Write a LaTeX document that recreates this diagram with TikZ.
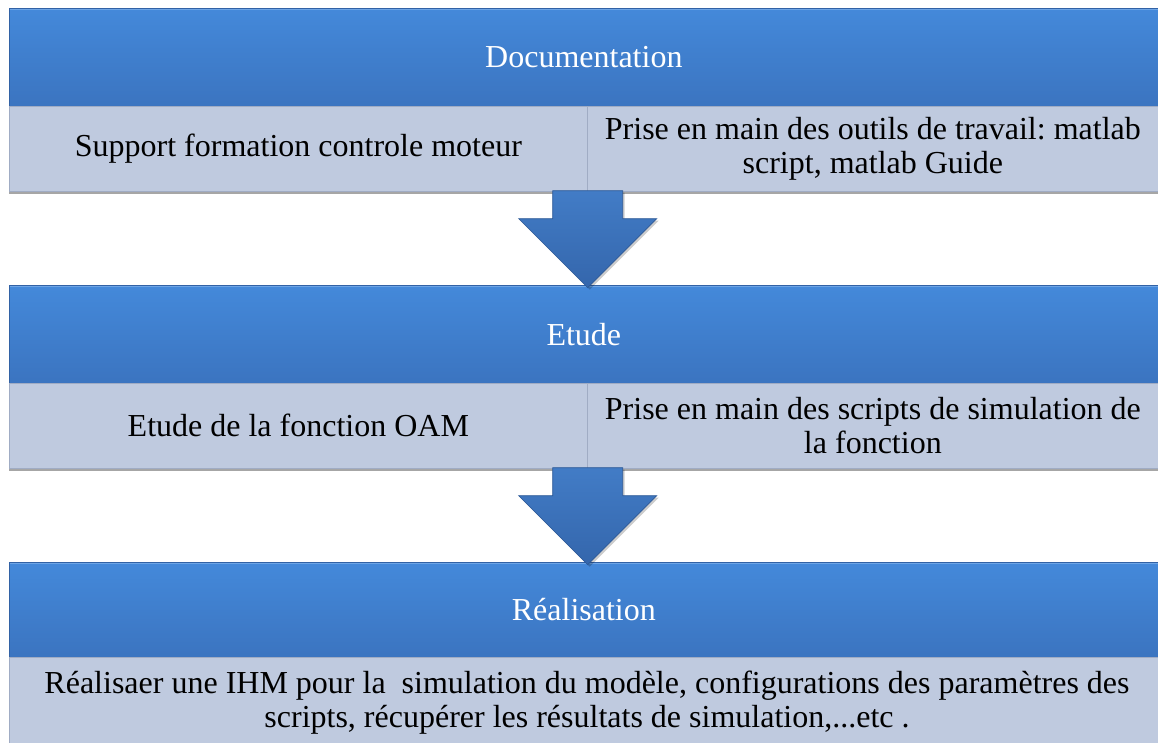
\documentclass[tikz,border=0pt]{standalone}
\usepackage{fontspec}
\setmainfont{Liberation Serif}
\usetikzlibrary{shadows,calc}
\frenchspacing
\definecolor{hdtop}{RGB}{68,137,218}
\definecolor{hdbot}{RGB}{59,116,192}
\definecolor{hdline}{RGB}{50,98,165}
\definecolor{hdlight}{RGB}{110,165,230}
\definecolor{cellfill}{RGB}{191,202,223}
\definecolor{cellline}{RGB}{160,172,196}
\definecolor{arrtop}{RGB}{66,124,198}
\definecolor{arrbot}{RGB}{52,102,172}
\definecolor{arrline}{RGB}{44,88,150}
\tikzset{
  txt/.style={font=\fontsize{32}{34}\selectfont},
  header/.style={txt, anchor=north west, inner sep=0pt, minimum width=1149pt,
    minimum height=#1, top color=hdtop, bottom color=hdbot, draw=hdline,
    line width=0.7pt, text=white},
  cell/.style={txt, anchor=north west, inner sep=0pt, fill=cellfill, draw=cellline,
    line width=0.7pt, align=center, text=black,
    drop shadow={shadow xshift=0pt, shadow yshift=-3pt, fill=black, opacity=0.35}},
  flow/.style={top color=arrtop, bottom color=arrbot, draw=arrline, line width=0.7pt,
    line join=miter,
    drop shadow={shadow xshift=2pt, shadow yshift=-2pt, fill=black, opacity=0.2}},
  bevel/.style={draw=hdlight, line width=1.2pt},
}
\begin{document}
\begin{tikzpicture}[x=1pt, y=-1pt]
\clip (0,0) rectangle (1158,742);
\fill[white] (0,0) rectangle (1158,742);

% stage 1
\node[header=98pt] (h1) at (9,8) {Documentation};
\node[cell, minimum width=578pt, minimum height=85pt] (c1l) at (9,106)
  {Support formation controle moteur};
\node[cell, minimum width=571pt, minimum height=85pt] (c1r) at (587,106)
  {Prise en main des outils de travail: matlab\\script, matlab Guide};

% stage 2
\node[header=98pt] (h2) at (9,285) {Etude};
\node[cell, minimum width=578pt, minimum height=85pt] (c2l) at (9,383)
  {Etude de la fonction OAM};
\node[cell, minimum width=571pt, minimum height=85pt] (c2r) at (587,383)
  {Prise en main des scripts de simulation de\\la fonction};

% stage 3
\node[header=95pt] (h3) at (9,562) {R\'ealisation};
\node[cell, minimum width=1149pt, minimum height=92pt] (c3) at (9,657) {};
\node[txt, align=center, anchor=center] (t3) at (587,703)
  {R\'ealisaer une IHM pour la\ \ simulation du mod\`ele, configurations des param\`etres des\\
   scripts, r\'ecup\'erer les r\'esultats de simulation,...etc .};

% light upper edge of each header
\foreach \h in {h1,h2,h3}
  \draw[bevel] ($(\h.north west)+(1,1.5)$) -- ($(\h.north east)+(-1,1.5)$);

% down arrows between stages
\foreach \c in {c1l, c2l} {
  \draw[flow] ($(\c.south east)+(-35,-1)$) -- ($(\c.south east)+(-35,27)$)
    -- ($(\c.south east)+(-69,27)$) -- ($(\c.south east)+(0,96)$)
    -- ($(\c.south east)+(69,27)$) -- ($(\c.south east)+(35,27)$)
    -- ($(\c.south east)+(35,-1)$) -- cycle;
}
\end{tikzpicture}
\end{document}
